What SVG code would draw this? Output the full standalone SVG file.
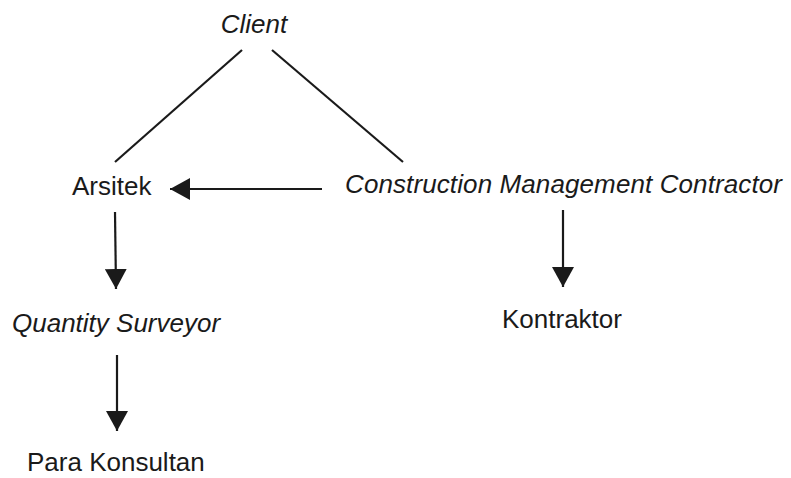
<svg xmlns="http://www.w3.org/2000/svg" width="791" height="478" viewBox="0 0 791 478">
<defs>
<style>
text{font-family:"Liberation Sans",Arial,sans-serif;font-size:26px;fill:#1a1a1a}
.it{font-style:italic}
.ln{stroke:#1a1a1a;stroke-width:2.2;fill:none}
</style>
<marker id="ah" viewBox="0 0 20 22" refX="20" refY="11" markerWidth="20" markerHeight="22" markerUnits="userSpaceOnUse" orient="auto">
<path d="M0,0 L20,11 L0,22 Z" fill="#1a1a1a"/>
</marker>
</defs>
<rect width="791" height="478" fill="#fff"/>
<g id="connectors">
<line class="ln" x1="242" y1="50" x2="115" y2="162"/>
<line class="ln" x1="272" y1="50" x2="403" y2="162"/>
<line class="ln" x1="322" y1="189" x2="170" y2="189" marker-end="url(#ah)"/>
<line class="ln" x1="115" y1="212" x2="116" y2="289" marker-end="url(#ah)"/>
<line class="ln" x1="563" y1="210" x2="563" y2="287" marker-end="url(#ah)"/>
<line class="ln" x1="117" y1="355" x2="117" y2="431" marker-end="url(#ah)"/>
</g>
<g id="client"><text class="it" x="254" y="33" text-anchor="middle">Client</text></g>
<g id="arsitek"><text x="72" y="195">Arsitek</text></g>
<g id="cmc"><text class="it" x="345" y="193" textLength="437">Construction Management Contractor</text></g>
<g id="qs"><text class="it" x="12" y="332">Quantity Surveyor</text></g>
<g id="kontraktor"><text x="502" y="328">Kontraktor</text></g>
<g id="konsultan"><text x="27" y="471">Para Konsultan</text></g>
</svg>
